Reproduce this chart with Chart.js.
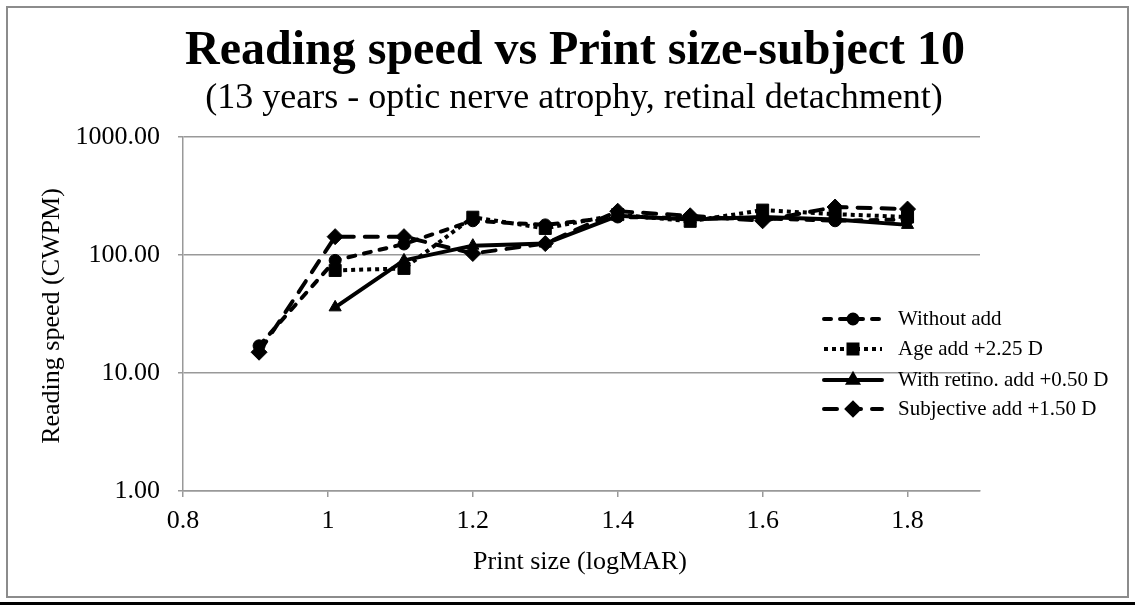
<!DOCTYPE html>
<html><head><meta charset="utf-8">
<script src="https://cdn.jsdelivr.net/npm/chart.js@4.4.1/dist/chart.umd.min.js"></script>
<style>html,body{margin:0;padding:0;background:#fff;}canvas{display:block;}</style>
</head><body>
<canvas id="c" width="1135" height="605"></canvas>
<script>
const titleText = 'Reading speed vs Print size-subject 10';
const subtitleText = '(13 years - optic nerve atrophy, retinal detachment)';
const xAxisTitle = 'Print size (logMAR)';
const yAxisTitle = 'Reading speed (CWPM)';
const printSize = [0.905, 1.01, 1.105, 1.2, 1.3, 1.4, 1.5, 1.6, 1.7, 1.8];
const withoutAdd = [17, 90, 124, 195, 180, 210, 205, 205, 195, 200];
const ageAdd = [null, 74, 77, 209, 168, 220, 193, 240, 222, 210];
const retinoAdd = [null, 36, 90, 120, 125, 215, 200, 210, 200, 180];
const subjectiveAdd = [15, 143, 143, 103, 125, 235, 215, 195, 255, 245];
const seriesNames = ['Without add', 'Age add +2.25 D', 'With retino. add +0.50 D', 'Subjective add +1.50 D'];
const xTickValues = [0.8, 1, 1.2, 1.4, 1.6, 1.8];
const xTickLabels = ['0.8', '1', '1.2', '1.4', '1.6', '1.8'];
const yTickValues = [1, 10, 100, 1000];
const yTickLabels = ['1.00', '10.00', '100.00', '1000.00'];

function pts(vals) {
  const out = [];
  vals.forEach((v, i) => { if (v !== null) out.push({x: printSize[i], y: v}); });
  return out;
}
const SERIF = '"Liberation Serif", "Times New Roman", serif';
const styles = [
  {dash: [7, 9], cap: 'round', point: 'circle', r: 6},
  {dash: [4, 4], cap: 'butt', point: 'rect', r: 8.5},
  {dash: [], cap: 'round', point: 'triangle', r: 7},
  {dash: [13, 11], cap: 'round', point: 'rectRot', r: 8},
];
const seriesData = [withoutAdd, ageAdd, retinoAdd, subjectiveAdd];
const datasets = seriesData.map((vals, i) => ({
  label: seriesNames[i],
  data: pts(vals),
  borderColor: '#000', backgroundColor: '#000',
  borderWidth: 4, borderDash: styles[i].dash, borderCapStyle: styles[i].cap,
  borderJoinStyle: 'round',
  pointStyle: styles[i].point, pointRadius: styles[i].r,
  pointBackgroundColor: '#000', pointBorderColor: '#000', pointBorderWidth: 1,
  tension: 0, fill: false
}));

const decor = {
  id: 'decor',
  afterDraw(chart) {
    const ctx = chart.ctx;
    ctx.save();
    // frame
    ctx.strokeStyle = '#8c8c8c'; ctx.lineWidth = 2; ctx.setLineDash([]);
    ctx.strokeRect(7, 7, 1121, 590);
    ctx.strokeStyle = '#000'; ctx.lineWidth = 3;
    ctx.beginPath(); ctx.moveTo(0, 603.5); ctx.lineTo(1135, 603.5); ctx.stroke();
    ctx.fillStyle = '#000';
    ctx.textAlign = 'center'; ctx.textBaseline = 'alphabetic';
    ctx.font = 'bold 48px ' + SERIF;
    ctx.fillText(titleText, 575, 64);
    ctx.font = '36px ' + SERIF;
    ctx.fillText(subtitleText, 574, 108);
    ctx.textBaseline = 'middle';
    ctx.font = '26px ' + SERIF;
    ctx.fillText(xAxisTitle, 580, 562);
    ctx.save();
    ctx.translate(52, 316); ctx.rotate(-Math.PI / 2);
    ctx.fillText(yAxisTitle, 0, 0);
    ctx.restore();
    // legend
    const rows = [319, 349, 380, 409];
    chart.data.datasets.forEach((ds, i) => {
      const y = rows[i];
      ctx.save();
      ctx.strokeStyle = '#000'; ctx.lineWidth = 4;
      ctx.setLineDash(ds.borderDash); ctx.lineCap = ds.borderCapStyle;
      ctx.beginPath(); ctx.moveTo(824, y); ctx.lineTo(882, y); ctx.stroke();
      ctx.setLineDash([]);
      Chart.helpers.drawPoint(ctx, {pointStyle: ds.pointStyle, radius: ds.pointRadius * 0.75, rotation: 0, borderWidth: 1}, 853, y);
      ctx.fillStyle = '#000'; ctx.fill();
      ctx.restore();
      ctx.fillStyle = '#000';
      ctx.textAlign = 'left'; ctx.textBaseline = 'middle';
      ctx.font = '21px ' + SERIF;
      ctx.fillText(ds.label, 898, y);
    });
    ctx.restore();
  }
};

new Chart(document.getElementById('c'), {
  type: 'line',
  data: {datasets},
  options: {
    responsive: false, animation: false,
    layout: {padding: {top: 137, right: 155, bottom: 0, left: 0}},
    plugins: {legend: {display: false}, title: {display: false}, tooltip: {enabled: false}},
    scales: {
      x: {
        type: 'linear', min: 0.8, max: 1.9,
        afterBuildTicks: s => { s.ticks = xTickValues.map(v => ({value: v})); },
        afterFit: s => { s.height = 605 - 491; },
        ticks: {color: '#000', font: {family: SERIF, size: 26}, padding: 9, maxRotation: 0,
          callback: (v) => xTickLabels[xTickValues.indexOf(v)] ?? ''},
        grid: {drawOnChartArea: false, drawTicks: true, tickLength: 6, color: '#999', lineWidth: 1.5},
        border: {color: '#999', width: 1.5}
      },
      y: {
        type: 'logarithmic', min: 1, max: 1000,
        afterBuildTicks: s => { s.ticks = yTickValues.map(v => ({value: v})); },
        afterFit: s => { s.width = 183; },
        ticks: {color: '#000', font: {family: SERIF, size: 26}, padding: 18,
          callback: (v) => yTickLabels[yTickValues.indexOf(v)] ?? ''},
        grid: {drawTicks: true, tickLength: 5, color: '#999', lineWidth: 1.5},
        border: {color: '#999', width: 1.5}
      }
    }
  },
  plugins: [decor]
});
</script>
</body></html>
